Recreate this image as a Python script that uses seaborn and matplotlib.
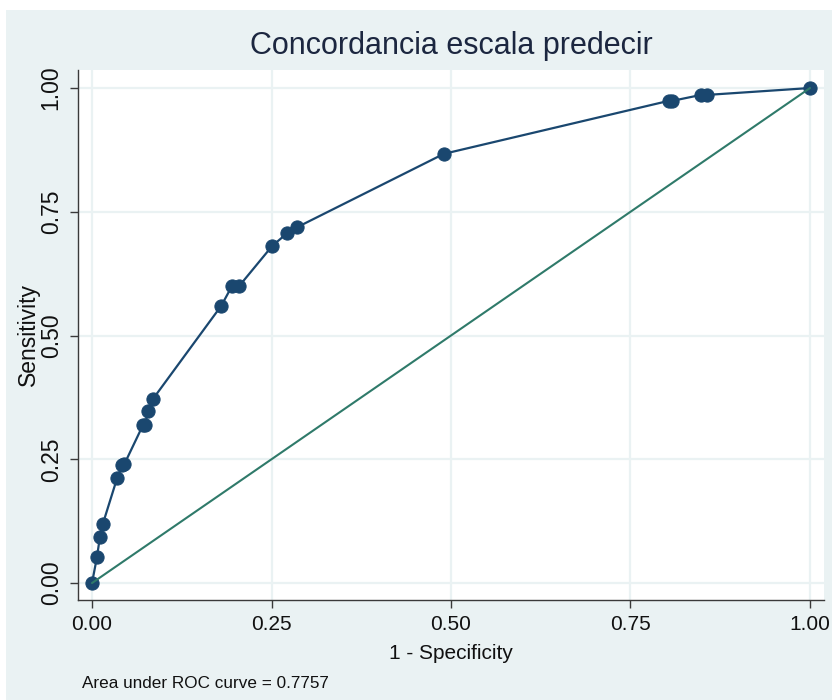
import matplotlib
matplotlib.use("Agg")
import matplotlib.pyplot as plt
from matplotlib import font_manager
from matplotlib.patches import Rectangle
import seaborn as sns
import pandas as pd

# ROC points: 1 - specificity and sensitivity at each cut-off
fpr = [0.000, 0.007, 0.011, 0.015, 0.035, 0.042, 0.045, 0.071, 0.074, 0.078,
       0.085, 0.180, 0.195, 0.205, 0.251, 0.272, 0.286, 0.490, 0.803, 0.808,
       0.848, 0.856, 1.000]
tpr = [0.000, 0.053, 0.093, 0.119, 0.212, 0.238, 0.240, 0.319, 0.319, 0.347,
       0.372, 0.560, 0.600, 0.600, 0.681, 0.707, 0.719, 0.867, 0.974, 0.974,
       0.986, 0.986, 1.000]
ref_x = [0.0, 1.0]
ref_y = [0.0, 1.0]
ticks = [0.0, 0.25, 0.5, 0.75, 1.0]
tick_labels = ["0.00", "0.25", "0.50", "0.75", "1.00"]
title = "Concordancia escala predecir"
xlabel = "1 - Specificity"
ylabel = "Sensitivity"
auc_note = "Area under ROC curve = 0.7757"

sns.set_theme(style="white")

names = {f.name for f in font_manager.fontManager.ttflist}
regular = "Liberation Sans" if "Liberation Sans" in names else "DejaVu Sans"
narrow = "Liberation Sans Narrow" if "Liberation Sans Narrow" in names else regular
plt.rcParams["font.family"] = [regular, "DejaVu Sans"]

navy = "#1a476f"
green = "#2f7a6a"
panel = "#eaf2f3"

fig = plt.figure(figsize=(8.32, 7.0), dpi=100, facecolor="white")
fig.patches.append(Rectangle((6 / 832, 0), 1, 1 - 10 / 700, transform=fig.transFigure,
                             facecolor=panel, edgecolor="none", zorder=-10))
ax = fig.add_axes([78 / 832, 1 - 600 / 700, (824 - 78) / 832, (600 - 70) / 700])
ax.set_zorder(2)
ax.set_facecolor("white")

roc = pd.DataFrame({"fpr": fpr, "tpr": tpr})
ref = pd.DataFrame({"x": ref_x, "y": ref_y})

sns.lineplot(data=roc, x="fpr", y="tpr", sort=False, estimator=None, ax=ax,
             color=navy, linewidth=1.6, marker="o", markersize=9.5,
             markeredgecolor=navy, markerfacecolor=navy, zorder=3)
sns.lineplot(data=ref, x="x", y="y", sort=False, estimator=None, ax=ax,
             color=green, linewidth=1.5, zorder=4)

ax.set_xlim(-0.0195, 1.0195)
ax.set_ylim(-0.0343, 1.0364)
ax.set_xticks(ticks)
ax.set_yticks(ticks)
ax.set_xticklabels(tick_labels, fontsize=15, family=narrow)
ax.set_yticklabels(tick_labels, fontsize=16.5, rotation=90, va="center")
ax.grid(True, color=panel, linewidth=1.6)
ax.set_axisbelow(True)

for side in ["top", "right"]:
    ax.spines[side].set_visible(False)
for side in ["left", "bottom"]:
    ax.spines[side].set_color("#3a3a3a")
    ax.spines[side].set_linewidth(1.0)

ax.tick_params(axis="both", which="major", length=6, width=1.0, color="#3a3a3a",
               labelcolor="#111111", left=True, bottom=True)
ax.tick_params(axis="y", pad=5)
ax.tick_params(axis="x", pad=5)

ax.set_xlabel(xlabel, fontsize=15, family=narrow, color="#111111", labelpad=7)
ax.set_ylabel(ylabel, fontsize=16.5, color="#111111", labelpad=0)

fig.text(451 / 832, 1 - 46 / 700, title, ha="center", va="center",
         fontsize=22, family=narrow, color="#1c2740")
fig.text(82 / 832, 1 - 684 / 700, auc_note, ha="left", va="center",
         fontsize=12.3, family=narrow, color="#111111")

fig.savefig("out.png", dpi=100, facecolor=fig.get_facecolor())
